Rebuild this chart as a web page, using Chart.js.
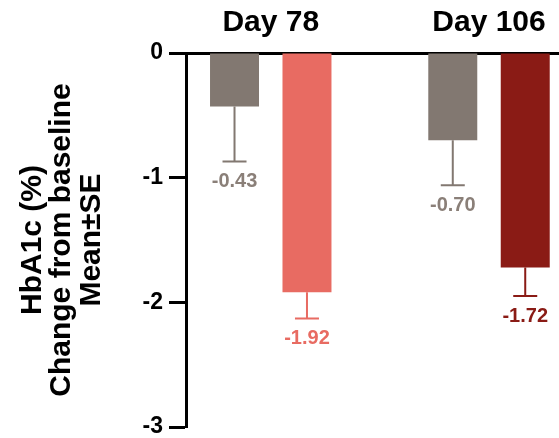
<!DOCTYPE html>
<html><head><meta charset="utf-8">
<script src="https://cdn.jsdelivr.net/npm/chart.js@4"></script>
<style>html,body{margin:0;padding:0;background:#fff;overflow:hidden}</style>
</head><body>
<canvas id="c" width="559" height="438"></canvas>
<script>
// ---- data ----
const categories = ['Day 78', 'Day 106'];
const groupPositions = [1, 2];
const controlMean = [-0.43, -0.70];
const controlSE = [0.44, 0.36];
const treatedMean = [-1.92, -1.72];
const treatedSE = [0.21, 0.23];
const controlValueLabels = ['-0.43', '-0.70'];
const treatedValueLabels = ['-1.92', '-1.72'];
const yTickValues = [-3, -2, -1, 0];
const yTitleLines = ['HbA1c (%)', 'Change from baseline', 'Mean\u00B1SE'];

// ---- styles ----
const FONT = '"Liberation Sans", Arial, Helvetica, sans-serif';
const controlColors = ['#827871', '#827871'];
const controlLabelColors = ['#8A7F78', '#8A7F78'];
const treatedColors = ['#E86B62', '#8A1B15'];

const toPoints = (ys) => ys.map((y, i) => ({ x: groupPositions[i], y }));

const errorBarPlugin = {
  id: 'errorBars',
  afterDatasetsDraw(chart) {
    const ctx = chart.ctx;
    const yScale = chart.scales.y;
    chart.data.datasets.forEach((ds, di) => {
      const meta = chart.getDatasetMeta(di);
      meta.data.forEach((bar, i) => {
        const mean = ds.data[i].y;
        const se = ds.se[i];
        const yEnd = yScale.getPixelForValue(mean - se);
        const yBar = yScale.getPixelForValue(mean);
        const col = ds.backgroundColor[i];
        ctx.save();
        ctx.strokeStyle = col;
        ctx.lineWidth = 2;
        ctx.beginPath();
        ctx.moveTo(bar.x, yBar);
        ctx.lineTo(bar.x, yEnd);
        ctx.moveTo(bar.x - 12, yEnd);
        ctx.lineTo(bar.x + 12, yEnd);
        ctx.stroke();
        ctx.fillStyle = ds.labelColors[i];
        ctx.font = 'bold 20px ' + FONT;
        ctx.textAlign = 'center';
        ctx.textBaseline = 'middle';
        ctx.fillText(ds.valueLabels[i], bar.x, yEnd + 20);
        ctx.restore();
      });
    });
  }
};

new Chart(document.getElementById('c'), {
  type: 'bar',
  data: {
    datasets: [
      {
        label: 'Control',
        data: toPoints(controlMean),
        se: controlSE,
        valueLabels: controlValueLabels,
        labelColors: controlLabelColors,
        backgroundColor: controlColors,
        borderWidth: 0,
        categoryPercentage: 0.664,
        barPercentage: 0.676
      },
      {
        label: 'Treated',
        data: toPoints(treatedMean),
        se: treatedSE,
        valueLabels: treatedValueLabels,
        labelColors: treatedColors,
        backgroundColor: treatedColors,
        borderWidth: 0,
        categoryPercentage: 0.664,
        barPercentage: 0.676
      }
    ]
  },
  options: {
    responsive: false,
    animation: false,
    devicePixelRatio: 1,
    layout: { padding: { left: 0, right: 0, top: 0, bottom: 11 } },
    plugins: { legend: { display: false }, tooltip: { enabled: false } },
    scales: {
      x: {
        type: 'linear',
        position: 'top',
        min: 0.6117,
        max: 2.3207,
        offset: false,
        afterBuildTicks(scale) {
          scale.ticks = groupPositions.map(v => ({ value: v }));
        },
        afterFit(scale) {
          scale.height = 53;
          scale.paddingLeft = 0;
          scale.paddingRight = 0;
        },
        ticks: {
          callback: (v) => categories[groupPositions.indexOf(v)] ?? '',
          color: '#000',
          padding: 15,
          maxRotation: 0,
          font: { family: FONT, size: 30, weight: 'bold', lineHeight: 1 }
        },
        grid: { display: false, drawTicks: false },
        border: { display: true, color: '#000', width: 3 }
      },
      y: {
        min: -3,
        max: 0,
        afterBuildTicks(scale) {
          scale.ticks = yTickValues.map(v => ({ value: v }));
        },
        afterFit(scale) {
          scale.width = 186;
          scale.paddingTop = 0;
          scale.paddingBottom = 0;
        },
        ticks: {
          color: '#000',
          padding: 6,
          font: { family: FONT, size: 23, weight: 'bold', lineHeight: 1 }
        },
        grid: {
          drawOnChartArea: false,
          drawTicks: true,
          tickLength: 17,
          tickWidth: 3,
          tickColor: '#000'
        },
        border: { display: true, color: '#000', width: 3 },
        title: {
          display: true,
          text: yTitleLines,
          color: '#000',
          padding: { top: 18, bottom: 0 },
          font: { family: FONT, size: 30, weight: 'bold', lineHeight: 0.98 }
        }
      }
    }
  },
  plugins: [errorBarPlugin]
});
</script>
</body></html>
